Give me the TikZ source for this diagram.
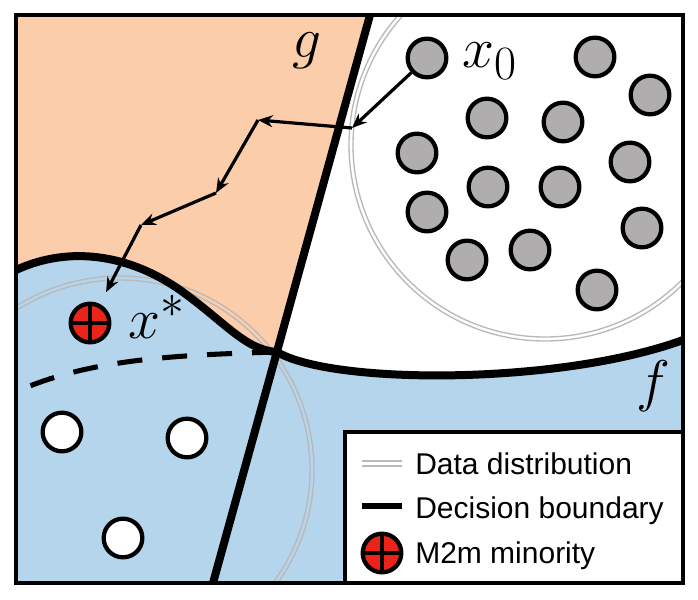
\documentclass[tikz,border=0pt]{standalone}
\usepackage{graphicx}
\usepackage{fontspec}
\newfontfamily\legendfont{Liberation Sans}
\usepackage{tikz}
\usetikzlibrary{arrows.meta}
\definecolor{regionorange}{RGB}{252,205,170}
\definecolor{regionblue}{RGB}{181,213,237}
\definecolor{dotgray}{RGB}{176,173,174}
\definecolor{datagray}{RGB}{185,185,185}
\definecolor{minred}{RGB}{235,35,25}
\newcommand{\biglabel}[1]{\scalebox{1.73}{\Huge$#1$}}
\tikzset{
  boundary/.style={line width=6pt},
  graydot/.style={circle,draw,line width=3.2pt,fill=dotgray,minimum size=29pt,inner sep=0pt},
  whitedot/.style={circle,draw,line width=3.2pt,fill=white,minimum size=29pt,inner sep=0pt},
  reddot/.style={circle,draw,line width=3.2pt,fill=minred,minimum size=29pt,inner sep=0pt,
    path picture={\draw[line width=2.4pt] (path picture bounding box.north) -- (path picture bounding box.south)
      (path picture bounding box.west) -- (path picture bounding box.east);}},
  datacirc/.style={draw=datagray,line width=1pt},
  walkarrow/.style={line width=2.4pt,-{Stealth[length=11pt,width=9pt]}},
  mathlabel/.style={inner sep=0pt},
  legendtext/.style={font=\legendfont\fontsize{22.5}{26}\selectfont,anchor=base west,inner sep=0pt}
}

\begin{document}
\begin{tikzpicture}[x=0.75pt,y=0.75pt,yscale=-1,xscale=1]
\useasboundingbox (0,0) rectangle (698,599);
\coordinate (P) at (277,352);

%Regions
\fill[white] (16,15) rectangle (683,583);
\fill[regionorange] (16,15) -- (370,15) -- (P) .. controls (245,350) and (225,322) .. (180,290) .. controls (130,255) and (70,245) .. (16,270) -- cycle;
\fill[regionblue] (16,270) .. controls (70,245) and (130,255) .. (180,290) .. controls (225,322) and (245,350) .. (P) .. controls (333,385) and (560,385) .. (683,340) -- (683,583) -- (16,583) -- cycle;

%Data distributions
\begin{scope}
\clip (16,15) rectangle (683,583);
\draw[datacirc] (545,145) circle[radius=192] (545,145) circle[radius=196];
\draw[datacirc] (120,470) circle[radius=190] (120,470) circle[radius=194];
\end{scope}

%Decision boundaries
\draw[line width=3.8pt,dash pattern=on 18.75pt off 15pt] (P) .. controls (170,355) and (90,360) .. (20,390);
\draw[boundary] (16,270) .. controls (70,245) and (130,255) .. (180,290) .. controls (225,322) and (245,350) .. (P);
\draw[boundary] (P) .. controls (333,385) and (560,385) .. (683,340);
\draw[boundary] (370,15) -- (213,583);

%Majority samples
\node[graydot] (x0) at (427,58) {};
\node[graydot] (d2) at (595,57) {};
\node[graydot] (d3) at (650,95) {};
\node[graydot] (d4) at (487,118) {};
\node[graydot] (d5) at (563,122) {};
\node[graydot] (d6) at (417,153) {};
\node[graydot] (d7) at (630,162) {};
\node[graydot] (d8) at (488,187) {};
\node[graydot] (d9) at (560,187) {};
\node[graydot] (d10) at (427,212) {};
\node[graydot] (d11) at (642,228) {};
\node[graydot] (d12) at (467,260) {};
\node[graydot] (d13) at (530,250) {};
\node[graydot] (d14) at (597,290) {};

%Minority samples
\node[whitedot] (w1) at (62,432) {};
\node[whitedot] (w2) at (187,438) {};
\node[whitedot] (w3) at (123,538) {};
\node[reddot] (xs) at (90,323) {};

%Translation steps
\coordinate (a1) at (352,128);
\coordinate (a2) at (258,120);
\coordinate (a3) at (216,193);
\coordinate (a4) at (141,225);
\draw[walkarrow] (x0) -- (a1);
\draw[walkarrow] (a1) -- (a2);
\draw[walkarrow] (a2) -- (a3);
\draw[walkarrow] (a3) -- (a4);
\draw[walkarrow,shorten >=10pt] (a4) -- (xs);

% Text Node
\node[mathlabel,anchor=base] (lg) at (307,58) {\biglabel{g}};
\node[mathlabel,anchor=base] (lf) at (653,400) {\biglabel{f}};
\node[mathlabel,anchor=base west] (lx0) at (462,68) {\biglabel{x_0}};
\node[mathlabel,anchor=base west] (lxs) at (128,338) {\biglabel{x^*}};

%Legend
\draw[fill=white,line width=2.5pt] (345,432) rectangle (683,583);
\draw[datagray,line width=1pt] (362,461) -- (402,461) (362,466) -- (402,466);
\draw[line width=5pt] (362,506) -- (402,506);
\node[reddot] (legred) at (382,553) {};
\node[legendtext] (legdata) at (415,474) {Data distribution};
\node[legendtext] (legbound) at (415,518) {Decision boundary};
\node[legendtext] (legmin) at (415,563) {M2m minority};

%Frame
\draw[line width=2.5pt] (16,15) rectangle (683,583);
\end{tikzpicture}
\end{document}
